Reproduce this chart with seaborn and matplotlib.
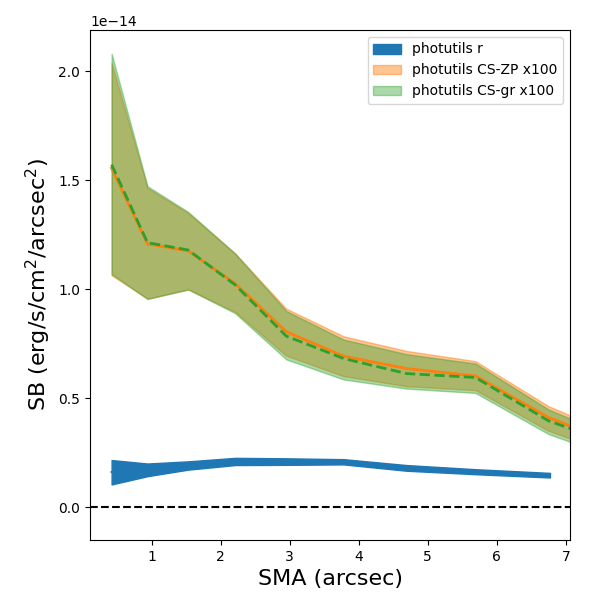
import numpy as np
import pandas as pd
import matplotlib
matplotlib.use("Agg")
import matplotlib.pyplot as plt
import seaborn as sns

# SMA (arcsec) and surface brightness values (units of 1e-14)
x_r = [0.42, 0.94, 1.53, 2.21, 2.94, 3.78, 4.69, 5.69, 6.77]
r_mid = [0.161, 0.171, 0.191, 0.210, 0.209, 0.208, 0.180, 0.162, 0.146]
r_hi = [0.216, 0.200, 0.210, 0.226, 0.224, 0.220, 0.193, 0.174, 0.157]
r_lo = [0.104, 0.142, 0.172, 0.193, 0.194, 0.196, 0.167, 0.151, 0.136]

x_cs = [0.42, 0.94, 1.53, 2.21, 2.95, 3.78, 4.69, 5.69, 6.75, 7.92]
zp_mid = [1.556, 1.208, 1.176, 1.026, 0.805, 0.693, 0.636, 0.602, 0.411, 0.267]
zp_hi = [2.038, 1.465, 1.350, 1.164, 0.911, 0.784, 0.717, 0.670, 0.463, 0.308]
zp_lo = [1.064, 0.957, 0.999, 0.896, 0.695, 0.601, 0.555, 0.537, 0.350, 0.218]
gr_mid = [1.572, 1.214, 1.180, 1.020, 0.785, 0.682, 0.613, 0.595, 0.396, 0.264]
gr_hi = [2.081, 1.473, 1.355, 1.164, 0.900, 0.769, 0.702, 0.659, 0.448, 0.293]
gr_lo = [1.070, 0.955, 0.999, 0.890, 0.678, 0.586, 0.544, 0.524, 0.335, 0.203]

scale = 1e-14
sc = lambda a: np.array(a) * scale

plt.rcParams['font.family'] = ['DejaVu Sans']

fig, ax = plt.subplots(figsize=(6, 6), dpi=100)
fig.subplots_adjust(left=0.15, right=0.95, top=0.95, bottom=0.1)

c0, c1, c2 = "#1f77b4", "#ff7f0e", "#2ca02c"

ax.fill_between(x_r, sc(r_lo), sc(r_hi), color=c0, label="photutils r")
ax.fill_between(x_cs, sc(zp_lo), sc(zp_hi), color=c1, alpha=0.45, label="photutils CS-ZP x100")
ax.fill_between(x_cs, sc(gr_lo), sc(gr_hi), color=c2, alpha=0.4, label="photutils CS-gr x100")

df_r = pd.DataFrame({"x": x_r, "y": sc(r_mid)})
df_zp = pd.DataFrame({"x": x_cs, "y": sc(zp_mid)})
df_gr = pd.DataFrame({"x": x_cs, "y": sc(gr_mid)})
sns.lineplot(data=df_r, x="x", y="y", ax=ax, color=c0, lw=1.5, legend=False)
sns.lineplot(data=df_zp, x="x", y="y", ax=ax, color=c1, lw=2, legend=False)
sns.lineplot(data=df_gr, x="x", y="y", ax=ax, color=c2, lw=2, ls="--", legend=False)

ax.axhline(0, color="k", ls="--", lw=1.5)

ax.set_xlim(0.107, 7.06)
ax.set_ylim(-0.151e-14, 2.19e-14)
ax.set_xlabel("SMA (arcsec)", fontsize=16)
ax.set_ylabel("SB (erg/s/cm$^2$/arcsec$^2$)", fontsize=16)
ax.legend(loc="upper right")

fig.savefig("out.png", dpi=100)
